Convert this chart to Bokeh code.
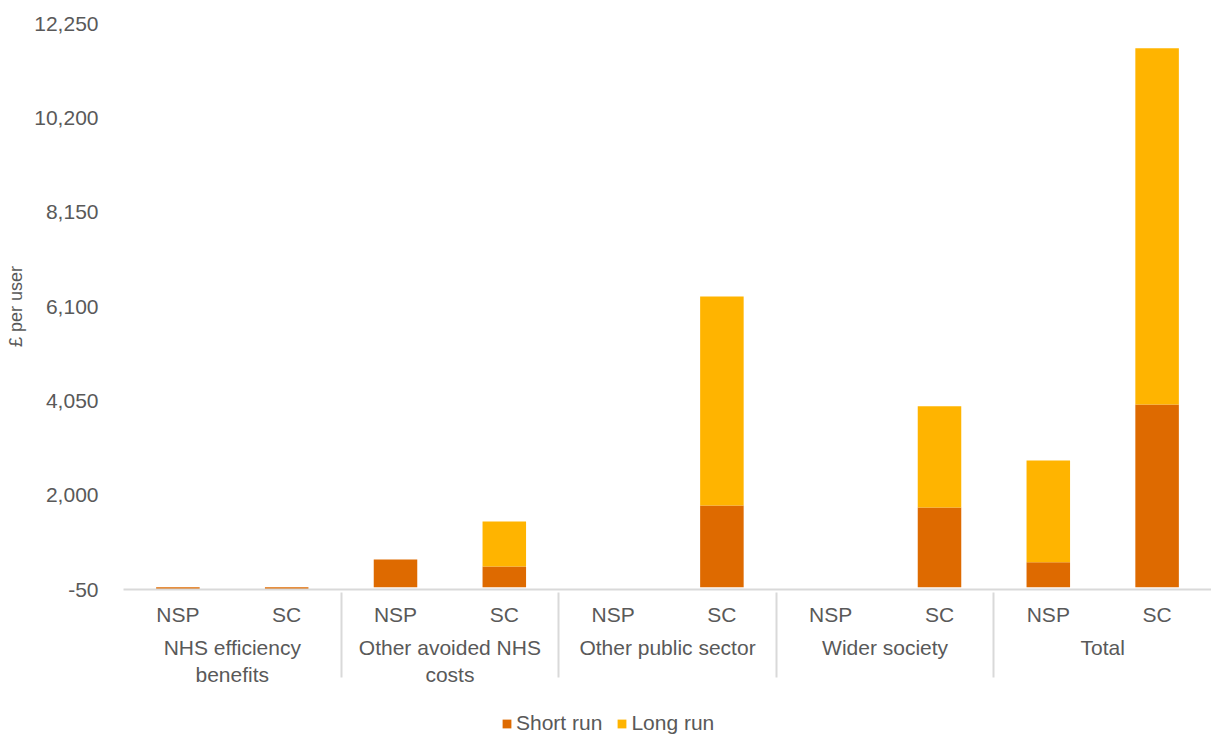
from bokeh.plotting import figure
from bokeh.layouts import column
from bokeh.models import FactorRange, FixedTicker, Legend, LegendItem, NumeralTickFormatter, ColumnDataSource
from bokeh.embed import file_html
from bokeh.resources import INLINE

groups = ["NHS efficiency\nbenefits", "Other avoided NHS\ncosts", "Other public sector", "Wider society", "Total"]
subs = ["NSP", "SC"]
short_run = [-40, -130, 600, 450, 0, 1775, 0, 1730, 540, 3970]
long_run = [0, 0, 0, 980, 0, 4540, 0, 2200, 2215, 7740]
y_ticks = [-50, 2000, 4050, 6100, 8150, 10200, 12250]
series = ["Short run", "Long run"]
colors = ["#DE6A00", "#FFB400"]

FONT = "Liberation Sans"
TXT = "#595959"

x = [(g, s) for g in groups for s in subs]
src = ColumnDataSource(data={"x": x, "Short run": short_run, "Long run": long_run})

p = figure(x_range=FactorRange(*x, factor_padding=0, group_padding=0, range_padding=0),
           y_range=(y_ticks[0], y_ticks[-1]),
           frame_width=1088, frame_height=566, output_backend="svg", toolbar_location=None,
           min_border_left=123, min_border_top=23, min_border_right=0, min_border_bottom=0)

r = p.vbar_stack(series, x="x", width=0.4, source=src, color=colors, line_color=None)

p.grid.grid_line_color = None
p.outline_line_color = None

ya = p.yaxis[0]
ya.ticker = FixedTicker(ticks=y_ticks)
ya.formatter = NumeralTickFormatter(format="0,0")
ya.axis_line_color = None
ya.major_tick_line_color = None
ya.minor_tick_line_color = None
ya.major_label_text_font = FONT
ya.major_label_text_font_size = "21px"
ya.major_label_text_color = TXT
ya.major_label_standoff = 19
ya.axis_label = "£ per user"
ya.axis_label_text_font = FONT
ya.axis_label_text_font_size = "18px"
ya.axis_label_text_font_style = "normal"
ya.axis_label_text_color = TXT
ya.axis_label_standoff = 5

xa = p.xaxis[0]
xa.axis_line_color = "#d9d9d9"
xa.axis_line_width = 2
xa.major_tick_line_color = None
xa.minor_tick_line_color = None
xa.major_label_text_font = FONT
xa.major_label_text_font_size = "21px"
xa.major_label_text_color = TXT
xa.major_label_standoff = 7
xa.group_text_font = FONT
xa.group_text_font_size = "21px"
xa.group_text_font_style = "normal"
xa.group_text_color = TXT
xa.separator_line_color = "#d9d9d9"
xa.separator_line_width = 2

# legend strip below the chart
q = figure(x_range=p.x_range, y_range=(1000000, 2000000), width=1211, height=46,
           output_backend="svg", toolbar_location=None,
           x_axis_location=None, y_axis_location=None,
           min_border_left=0, min_border_right=0, min_border_top=0, min_border_bottom=0)
q.grid.grid_line_color = None
q.outline_line_color = None
rq = q.vbar_stack(series, x="x", width=0.4, source=src, color=colors, line_color=None)

legend = Legend(items=[LegendItem(label=s, renderers=[rr]) for s, rr in zip(series, rq)],
                orientation="horizontal", location=(378, 0),
                border_line_color=None, background_fill_alpha=0,
                label_text_font=FONT, label_text_font_size="21px", label_text_color=TXT,
                glyph_width=11, glyph_height=11, label_standoff=4, spacing=14,
                padding=0, margin=0)
q.add_layout(legend, "center")

layout = column(p, q, spacing=0)
open("out.html", "w").write(file_html(layout, INLINE))
